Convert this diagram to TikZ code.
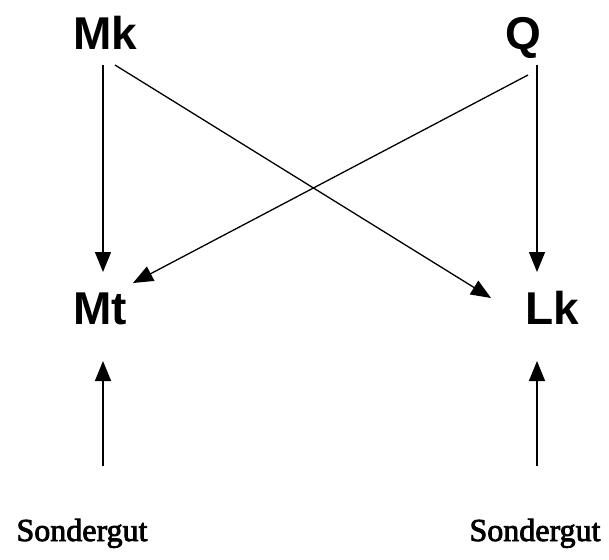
\documentclass[tikz,border=0pt]{standalone}
\usepackage{fontspec}
\setmainfont{Liberation Serif}
\newfontfamily\headfont{Liberation Sans}
\newfontfamily\sgfont{Liberation Serif}[FakeBold=2.5]
\usetikzlibrary{arrows.meta}
\tikzset{
  big/.style={font=\headfont\bfseries\fontsize{46}{50}\selectfont, inner sep=0pt, anchor=base},
  small/.style={font=\sgfont\fontsize{32}{35}\selectfont, inner sep=0pt, anchor=base},
  conn/.style={line width=1.3pt, -{Triangle[length=20pt,width=16pt]}},
}
\begin{document}
\begin{tikzpicture}[x=1pt,y=-1pt]
\useasboundingbox (0,0) rectangle (609,559);
\node[big] (Mk) at (105,50) {Mk};
\node[big] (Q) at (523,50) {Q};
\node[big] (Mt) at (100,324) {Mt};
\node[big] (Lk) at (552,324) {Lk};
\node[small] (S1) at (82,541) {Sondergut};
\node[small] (S2) at (535,541) {Sondergut};
% endpoints
\coordinate (mk1) at (103,65);
\coordinate (mk2) at (115,65);
\coordinate (q1) at (537,65);
\coordinate (q2) at (528,75);
\coordinate (mt1) at (103,272);
\coordinate (mt2) at (133,283);
\coordinate (lk1) at (537,272);
\coordinate (lk2) at (491,298);
\coordinate (mt3) at (103,361);
\coordinate (lk3) at (537,361);
\coordinate (s1) at (103,466);
\coordinate (s2) at (537,466);
\draw[conn] (mk1) -- (mt1);
\draw[conn] (mk2) -- (lk2);
\draw[conn] (q1) -- (lk1);
\draw[conn] (q2) -- (mt2);
\draw[conn] (s1) -- (mt3);
\draw[conn] (s2) -- (lk3);
\end{tikzpicture}
\end{document}
